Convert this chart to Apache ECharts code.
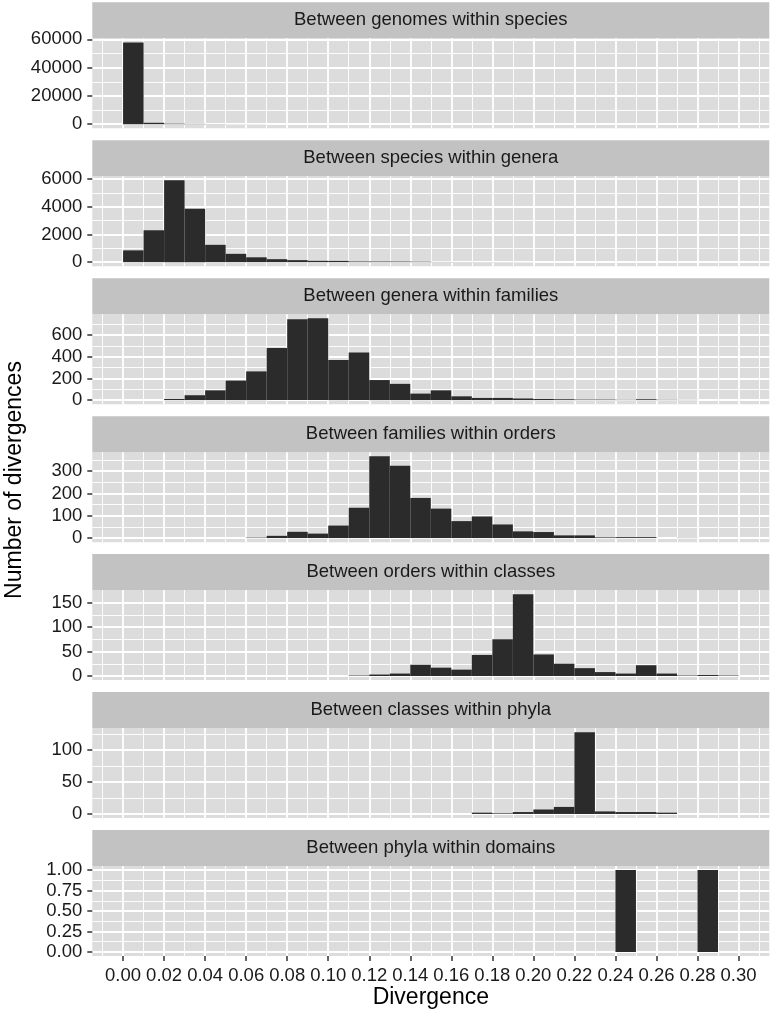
<!DOCTYPE html>
<html><head><meta charset="utf-8">
<script src="https://cdn.jsdelivr.net/npm/echarts@6/dist/echarts.min.js"></script>
<style>html,body{margin:0;padding:0;background:#fff}#chart{width:770px;height:1015px}</style>
</head><body><div id="chart"></div>
<script>
// ---------------- data ----------------
const panelTitles = [
  'Between genomes within species',
  'Between species within genera',
  'Between genera within families',
  'Between families within orders',
  'Between orders within classes',
  'Between classes within phyla',
  'Between phyla within domains'
];
// left edges of histogram bins (width 0.01)
const binEdges = [0.00,0.01,0.02,0.03,0.04,0.05,0.06,0.07,0.08,0.09,
                  0.10,0.11,0.12,0.13,0.14,0.15,0.16,0.17,0.18,0.19,
                  0.20,0.21,0.22,0.23,0.24,0.25,0.26,0.27,0.28,0.29];
const binWidth = 0.01;

const genomesWithinSpecies = [57850,1000,400,250,120,60,40,0,0,0, 0,0,0,0,0,0,0,0,0,0, 0,0,0,0,0,0,0,0,0,0];
const speciesWithinGenera  = [850,2300,5900,3850,1250,600,350,215,145,95, 90,50,48,45,35,15,12,10,8,6, 0,0,0,0,0,0,0,0,0,0];
const generaWithinFamilies = [0,0,10,45,90,180,265,480,745,755, 370,440,185,150,60,90,35,20,20,15, 10,8,5,5,3,8,3,2,0,0];
const familiesWithinOrders = [0,0,0,0,0,0,2,10,28,20, 56,136,367,324,180,132,76,97,61,30, 27,12,12,3,4,4,0,1,0,0];
const ordersWithinClasses  = [0,0,0,0,0,0,0,0,0,0, 0,1,3,5,23,17,13,43,75,167, 44,25,16,8,5,22,5,1,2,1];
const classesWithinPhyla   = [0,0,0,0,0,0,0,0,0,0, 0,0,0,0,0,0,0,2,1,3, 7,11,128,4,3,3,2,0,0,0];
const phylaWithinDomains   = [0,0,0,0,0,0,0,0,0,0, 0,0,0,0,0,0,0,0,0,0, 0,0,0,0,1,0,0,0,1,0];

const panelCounts = [genomesWithinSpecies, speciesWithinGenera, generaWithinFamilies,
  familiesWithinOrders, ordersWithinClasses, classesWithinPhyla, phylaWithinDomains];

// tick values
const xTicks = [0.00,0.02,0.04,0.06,0.08,0.10,0.12,0.14,0.16,0.18,0.20,0.22,0.24,0.26,0.28,0.30];
const xMinorTicks = [-0.01,0.01,0.03,0.05,0.07,0.09,0.11,0.13,0.15,0.17,0.19,0.21,0.23,0.25,0.27,0.29,0.31];
const yTicks = [
  [0,20000,40000,60000],
  [0,2000,4000,6000],
  [0,200,400,600],
  [0,100,200,300],
  [0,50,100,150],
  [0,50,100],
  [0,0.25,0.5,0.75,1]
];
const yMinorTicks = [
  [10000,30000,50000],
  [1000,3000,5000],
  [100,300,500,700],
  [50,150,250,350],
  [25,75,125],
  [25,75,125],
  [0.125,0.375,0.625,0.875]
];
const yDecimals = [0,0,0,0,0,0,2];
const xTitle = 'Divergence';
const yTitle = 'Number of divergences';

// ---------------- layout / style ----------------
const L = 92.3, W = 677, TOP0 = 2.3, STEP = 137.95, STRIP_H = 36, PLOT_H = 90;
const FONT = 'Liberation Sans, Arial, Helvetica, sans-serif';
const TXT = '#1a1a1a';
const PANEL_BG = '#DCDCDC', STRIP_BG = '#C2C2C2', BAR = '#2B2B2B';
const XMIN = -0.015, XMAX = 0.315;
const TICK_FS = 18.5, STRIP_FS = 18.5, TITLE_FS = 23;

const grids = [], xAxes = [], yAxes = [], series = [], graphics = [];
panelCounts.forEach((arr, k) => {
  const top = TOP0 + k * STEP;
  const ymax = Math.max(...arr);
  const last = k === panelCounts.length - 1;
  grids.push({left: L, top: top + STRIP_H, width: W, height: PLOT_H, show: true,
    backgroundColor: PANEL_BG, borderWidth: 0, containLabel: false, outerBoundsMode: 'none'});
  // minor x
  xAxes.push({type: 'value', gridIndex: k, min: XMIN, max: XMAX, position: 'bottom',
    axisLine: {show: false, onZero: false}, axisTick: {show: false, customValues: xMinorTicks},
    axisLabel: {show: false, customValues: xMinorTicks},
    splitLine: {show: true, lineStyle: {color: '#ffffff', width: 0.9}}});
  // major x
  xAxes.push({type: 'value', gridIndex: k, min: XMIN, max: XMAX, position: 'bottom',
    axisLine: {show: false, onZero: false},
    axisTick: {show: last, customValues: xTicks, length: 5, lineStyle: {color: '#333', width: 1.5}},
    axisLabel: {show: last, customValues: xTicks, formatter: v => Number(v).toFixed(2),
      fontSize: TICK_FS, color: TXT, fontFamily: FONT, margin: 10},
    splitLine: {show: true, lineStyle: {color: '#ffffff', width: 1.8}}});
  const yr = [-0.05 * ymax, 1.05 * ymax];
  yAxes.push({type: 'value', gridIndex: k, min: yr[0], max: yr[1], position: 'left',
    axisLine: {show: false, onZero: false}, axisTick: {show: false, customValues: yMinorTicks[k]},
    axisLabel: {show: false, customValues: yMinorTicks[k]},
    splitLine: {show: true, lineStyle: {color: '#ffffff', width: 0.9}}});
  yAxes.push({type: 'value', gridIndex: k, min: yr[0], max: yr[1], position: 'left',
    axisLine: {show: false, onZero: false},
    axisTick: {show: true, customValues: yTicks[k], length: 5, lineStyle: {color: '#333', width: 1.5}},
    axisLabel: {show: true, customValues: yTicks[k], formatter: v => Number(v).toFixed(yDecimals[k]),
      fontSize: TICK_FS, color: TXT, fontFamily: FONT, margin: 10},
    splitLine: {show: true, lineStyle: {color: '#ffffff', width: 1.8}}});
  series.push({type: 'custom', xAxisIndex: 2 * k + 1, yAxisIndex: 2 * k + 1,
    data: binEdges.map((e, i) => [e, arr[i]]).filter(d => d[1] > 0),
    renderItem: (params, api) => {
      const x0 = api.value(0), y = api.value(1);
      const p0 = api.coord([x0, 0]);
      const p1 = api.coord([x0 + binWidth, y]);
      return {type: 'rect', shape: {x: p0[0], y: p1[1], width: p1[0] - p0[0], height: p0[1] - p1[1]},
        style: {fill: BAR}};
    }});
  graphics.push({type: 'rect', shape: {x: L, y: top, width: W, height: STRIP_H}, style: {fill: STRIP_BG}, silent: true});
  graphics.push({type: 'text', x: L + W / 2, y: top + STRIP_H / 2,
    style: {text: panelTitles[k], fontSize: STRIP_FS, fontFamily: FONT, fill: TXT, align: 'center', verticalAlign: 'middle'}});
});
graphics.push({type: 'text', x: L + W / 2, y: 998,
  style: {text: xTitle, fontSize: TITLE_FS, fontFamily: FONT, fill: '#000', align: 'center', verticalAlign: 'middle'}});
graphics.push({type: 'text', x: 15, y: 480, rotation: Math.PI / 2,
  style: {text: yTitle, fontSize: TITLE_FS, fontFamily: FONT, fill: '#000', align: 'center', verticalAlign: 'middle'}});

const chart = echarts.init(document.getElementById('chart'), null, {renderer: 'canvas'});
chart.setOption({
  animation: false,
  backgroundColor: '#ffffff',
  grid: grids, xAxis: xAxes, yAxis: yAxes, series: series, graphic: graphics
});
</script></body></html>
